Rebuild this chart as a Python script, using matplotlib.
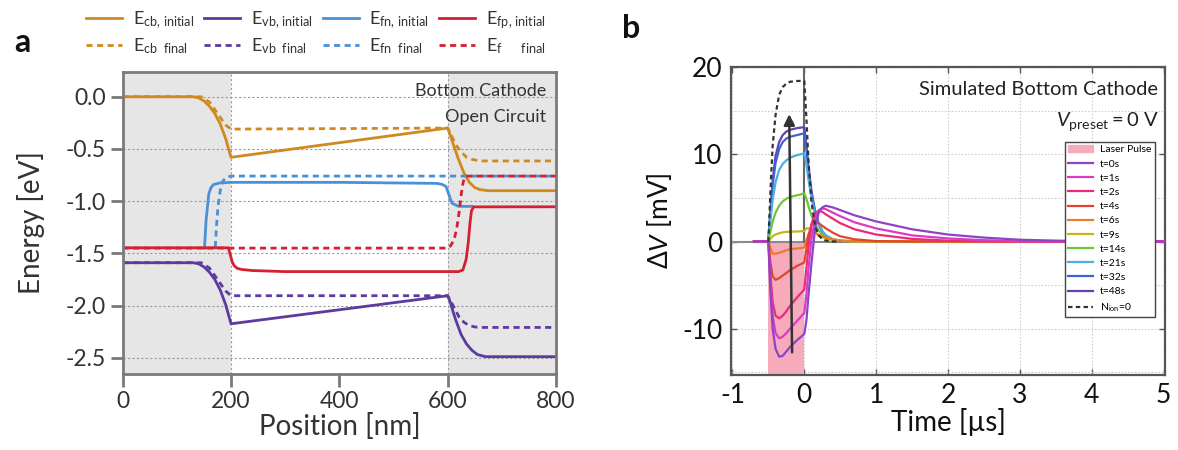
import matplotlib
matplotlib.use('Agg')
import matplotlib.pyplot as plt
from matplotlib.patches import Patch

plt.rcParams['font.family'] = ['Lato', 'DejaVu Sans']
plt.rcParams['mathtext.fontset'] = 'custom'
plt.rcParams['mathtext.rm'] = 'Lato'
plt.rcParams['mathtext.it'] = 'Lato:italic'
plt.rcParams['mathtext.bf'] = 'Lato:bold'

# ---- panel a: band diagram (position in nm, energy in eV)
ecb_i_x = [0, 130, 140, 150, 160, 170, 180, 190, 200, 600, 605, 610, 620, 630, 640, 650, 660, 675, 800]
ecb_i_y = [0, 0, -0.01, -0.04, -0.09, -0.16, -0.26, -0.40, -0.58, -0.30, -0.37, -0.45, -0.60, -0.73, -0.82, -0.87, -0.89, -0.90, -0.90]
ecb_f_x = [0, 145, 160, 175, 190, 200, 600, 605, 615, 625, 635, 645, 660, 800]
ecb_f_y = [0, 0, -0.05, -0.16, -0.27, -0.31, -0.30, -0.35, -0.46, -0.53, -0.58, -0.60, -0.615, -0.615]
evb_i_x = [0, 130, 140, 150, 160, 170, 180, 190, 200, 600, 605, 610, 615, 625, 635, 645, 655, 670, 800]
evb_i_y = [-1.59, -1.59, -1.60, -1.63, -1.68, -1.75, -1.85, -1.99, -2.175, -1.906, -1.97, -2.06, -2.14, -2.28, -2.37, -2.43, -2.47, -2.49, -2.49]
evb_f_x = [0, 145, 160, 175, 190, 200, 600, 610, 621, 630, 639, 650, 660, 800]
evb_f_y = [-1.59, -1.59, -1.64, -1.75, -1.86, -1.906, -1.906, -2.0, -2.11, -2.16, -2.19, -2.205, -2.21, -2.21]
efn_i_x = [151, 154, 159, 163, 168, 180, 200, 400, 580, 590, 597, 603, 608, 620, 645]
efn_i_y = [-1.45, -1.18, -0.93, -0.87, -0.84, -0.825, -0.82, -0.82, -0.83, -0.84, -0.86, -0.95, -1.02, -1.05, -1.05]
efn_f_x = [171, 173, 176, 180, 185, 190, 200, 600, 800]
efn_f_y = [-1.44, -1.25, -1.05, -0.90, -0.81, -0.775, -0.76, -0.76, -0.76]
efp_i_x = [0, 195, 198, 202, 206, 212, 220, 240, 300, 620, 628, 634, 638, 641, 644, 648, 800]
efp_i_y = [-1.447, -1.447, -1.50, -1.58, -1.62, -1.645, -1.655, -1.665, -1.675, -1.675, -1.66, -1.56, -1.40, -1.22, -1.09, -1.055, -1.054]
efp_f_x = [0, 600, 605, 612, 617, 621, 624, 627, 630, 634, 800]
efp_f_y = [-1.45, -1.45, -1.43, -1.37, -1.25, -1.11, -0.98, -0.86, -0.79, -0.76, -0.76]

# ---- panel b: transient photovoltage (time in us, dV in mV)
tb = [-0.7, -0.5, -0.47, -0.44, -0.4, -0.35, -0.3, -0.25, -0.2, -0.1, 0.0, 0.03, 0.06, 0.1, 0.15,
      0.2, 0.25, 0.3, 0.4, 0.5, 0.7, 1.0, 1.5, 2.0, 2.5, 3.0, 3.5, 4.0, 5.0]
v_t0 = [0, 0, -6, -10, -12.3, -13.2, -13.1, -12.6, -12.1, -11.3, -10.6, -9.0, -6.0, -2.5, 1.5,
        3.3, 3.9, 4.1, 3.9, 3.6, 3.0, 2.3, 1.4, 0.8, 0.45, 0.2, 0.1, 0.03, 0]
v_t1 = [0, 0, -5, -8.5, -10.5, -11.1, -10.9, -10.5, -10.0, -9.1, -8.2, -6.0, -3.0, 0.3, 2.6,
        3.6, 3.8, 3.7, 3.3, 2.9, 2.2, 1.5, 0.7, 0.35, 0.15, 0.05, 0.02, 0, 0]
v_t2 = [0, 0, -4, -7, -8.5, -8.8, -8.5, -8.0, -7.4, -6.4, -5.5, -3.0, -0.5, 2.0, 3.3,
        3.5, 3.4, 3.1, 2.6, 2.1, 1.4, 0.8, 0.3, 0.1, 0.03, 0, 0, 0, 0]
v_t4 = [0, 0, -2.5, -4.0, -4.4, -4.2, -3.9, -3.6, -3.3, -2.8, -2.4, -0.8, 0.8, 1.9, 2.3,
        2.1, 1.8, 1.5, 1.0, 0.6, 0.25, 0.05, 0, 0, 0, 0, 0, 0, 0]
v_t6 = [0, 0, -0.8, -1.4, -1.4, -1.3, -1.15, -1.0, -0.9, -0.8, -0.7, 0.2, 0.8, 1.1, 1.0,
        0.8, 0.6, 0.45, 0.25, 0.12, 0.03, 0, 0, 0, 0, 0, 0, 0, 0]
v_t9 = [0, 0, 0.3, 0.6, 0.8, 0.95, 1.05, 1.1, 1.12, 1.15, 1.2, 1.5, 1.5, 1.3, 1.0,
        0.7, 0.5, 0.35, 0.15, 0.06, 0, 0, 0, 0, 0, 0, 0, 0, 0]
v_t14 = [0, 0, 1.2, 2.3, 3.3, 4.1, 4.6, 4.9, 5.1, 5.3, 5.5, 4.9, 4.0, 3.0, 2.0,
         1.3, 0.8, 0.5, 0.2, 0.08, 0, 0, 0, 0, 0, 0, 0, 0, 0]
v_t21 = [0, 0, 2.5, 4.8, 6.8, 8.2, 8.9, 9.3, 9.6, 9.9, 10.1, 8.8, 7.0, 5.0, 3.2,
         2.0, 1.2, 0.7, 0.25, 0.1, 0, 0, 0, 0, 0, 0, 0, 0, 0]
v_t32 = [0, 0, 3.5, 6.5, 9.0, 10.6, 11.4, 11.8, 12.0, 12.2, 12.4, 10.5, 8.0, 5.5, 3.3,
         2.0, 1.1, 0.6, 0.2, 0.05, 0, 0, 0, 0, 0, 0, 0, 0, 0]
v_t48 = [0, 0, 3.8, 7.0, 9.8, 11.4, 12.2, 12.6, 12.8, 13.0, 13.1, 11.0, 8.5, 5.8, 3.5,
         2.1, 1.2, 0.65, 0.2, 0.06, 0, 0, 0, 0, 0, 0, 0, 0, 0]
v_noion = [0, 0, 6, 11, 14.5, 16.8, 17.7, 18.1, 18.3, 18.4, 18.4, 14.0, 9.0, 4.5, 1.8,
           0.7, 0.3, 0.1, 0, 0, 0, 0, 0, 0, 0, 0, 0, 0, 0]
t_labels = ['t=0s', 't=1s', 't=2s', 't=4s', 't=6s', 't=9s', 't=14s', 't=21s', 't=32s', 't=48s']
t_colors = ['#8c44c6', '#d83cc4', '#ec2a7c', '#e2452c', '#ea7c2c', '#c8b418',
            '#6cc832', '#4aaee6', '#3c64d0', '#6440b4']
pulse = [-0.5, 0.0]

fig = plt.figure(figsize=(11.78, 4.5), dpi=100)
W, H = 1178.0, 450.0

# ================= panel a
axa = fig.add_axes([122.7 / W, 1 - 374 / H, (556 - 122.7) / W, (374 - 71.7) / H])
axa.set_xlim(0, 800)
axa.set_ylim(-2.656, 0.24)
axa.axvspan(0, 200, color='#e6e6e6', zorder=0, lw=0)
axa.axvspan(600, 800, color='#e6e6e6', zorder=0, lw=0)
for yv in [0, -0.5, -1.0, -1.5, -2.0, -2.5]:
    axa.axhline(yv, color='#9a9a9a', lw=0.8, ls=(0, (2, 2)), zorder=1)
for xv in [200, 600]:
    axa.axvline(xv, color='#9a9a9a', lw=0.8, ls=(0, (2, 2)), zorder=1)

c_cb, c_vb, c_fn, c_fp = '#d0891f', '#5c3a9e', '#4a90d8', '#d42030'
dash = (0, (2.2, 1.6))
lw = 2.0
h = []
h += axa.plot(ecb_i_x, ecb_i_y, color=c_cb, lw=lw)
h += axa.plot(ecb_f_x, ecb_f_y, color=c_cb, lw=lw, ls=dash)
h += axa.plot(evb_i_x, evb_i_y, color=c_vb, lw=lw)
h += axa.plot(evb_f_x, evb_f_y, color=c_vb, lw=lw, ls=dash)
h += axa.plot(efn_i_x, efn_i_y, color=c_fn, lw=lw)
h += axa.plot(efn_f_x, efn_f_y, color=c_fn, lw=lw, ls=dash)
h += axa.plot(efp_i_x, efp_i_y, color=c_fp, lw=lw)
h += axa.plot(efp_f_x, efp_f_y, color=c_fp, lw=lw, ls=dash)
labels_a = [r'E$_{\mathrm{cb,\,initial}}$', r'E$_{\mathrm{cb\ \ final}}$',
            r'E$_{\mathrm{vb,\,initial}}$', r'E$_{\mathrm{vb\ \ final}}$',
            r'E$_{\mathrm{fn,\,initial}}$', r'E$_{\mathrm{fn\ \ final}}$',
            r'E$_{\mathrm{fp,\,initial}}$', r'E$_{\mathrm{f\ \ \ \ \ \ final}}$']
fig.legend(h, labels_a, ncol=4, loc='upper left', bbox_to_anchor=(70 / W, 1.015),
           frameon=False, fontsize=13, handlelength=2.0, columnspacing=0.55,
           handletextpad=0.6, labelspacing=0.3, labelcolor='#333333')

for s in axa.spines.values():
    s.set_color('#7a7a7a')
    s.set_linewidth(2)
axa.set_xticks([0, 200, 400, 600, 800])
axa.set_yticks([0, -0.5, -1.0, -1.5, -2.0, -2.5])
axa.set_yticklabels(['0.0', '-0.5', '-1.0', '-1.5', '-2.0', '-2.5'])
axa.tick_params(direction='out', length=9, width=2, color='#7a7a7a',
                labelsize=16.5, labelcolor='#333333', pad=3)
axa.set_xlabel('Position [nm]', fontsize=20, color='#333333', labelpad=1)
axa.set_ylabel('Energy [eV]', fontsize=20, color='#333333', labelpad=15)
axa.text(0.978, 0.962, 'Bottom Cathode', transform=axa.transAxes, ha='right', va='top',
         fontsize=13, color='#333333')
axa.text(0.978, 0.878, 'Open Circuit', transform=axa.transAxes, ha='right', va='top',
         fontsize=13, color='#333333')
fig.text(14 / W, 1 - 52 / H, 'a', fontsize=23, fontweight='bold', color='#111111')

# ================= panel b
axb = fig.add_axes([731 / W, 1 - 375 / H, (1165 - 731) / W, (375 - 67) / H])
axb.set_xlim(-1.02, 5.02)
axb.set_ylim(-15.3, 20)
axb.set_xticks([-1, 0, 1, 2, 3, 4, 5])
axb.set_yticks([-10, 0, 10, 20])
axb.set_yticks([-15, -5, 5, 15], minor=True)
axb.grid(True, which='both', color='#cfcfcf', ls=(0, (1.5, 1.5)), lw=0.8)
axb.set_axisbelow(True)
axb.axvspan(pulse[0], pulse[1], ymin=0, ymax=15.3 / 35.3, color='#f7abba', lw=0, zorder=1)
axb.axhline(0, color='#8a8a8a', lw=1.5, zorder=1.5)
axb.plot([0, 0], [0, 20], color='#666666', lw=1.5, zorder=1.5)

series = [v_t0, v_t1, v_t2, v_t4, v_t6, v_t9, v_t14, v_t21, v_t32, v_t48]
lines_b = {}
for i in range(len(series) - 1, -1, -1):
    ln, = axb.plot(tb, series[i], color=t_colors[i], lw=1.6, zorder=3)
    lines_b[i] = ln
nl, = axb.plot(tb[1:20], v_noion[1:20], color='#333333', lw=1.6, ls=(0, (2, 1.5)), zorder=4)
axb.annotate('', xy=(-0.21, 14.6), xytext=(-0.17, -12.7),
             arrowprops=dict(arrowstyle='-|>', color='#333333', lw=1.8,
                             mutation_scale=16, shrinkA=0, shrinkB=0), zorder=5)

for s in axb.spines.values():
    s.set_color('#555555')
    s.set_linewidth(1.6)
axb.tick_params(which='both', direction='in', top=True, right=True, length=4, width=1,
                color='#555555', labelsize=19, labelcolor='#111111', pad=6)
axb.tick_params(which='minor', length=0)
axb.set_xticklabels(['-1', '0', '1', '2', '3', '4', '5'])
axb.set_yticklabels(['-10', '0', '10', '20'])
axb.set_xlabel('Time [µs]', fontsize=20, color='#111111', labelpad=0)
axb.set_ylabel(r'$\mathit{\Delta V}$ [mV]', fontsize=19, color='#111111', labelpad=6)
axb.text(0.985, 0.955, 'Simulated Bottom Cathode', transform=axb.transAxes, ha='right',
         va='top', fontsize=14.5, color='#222222')
axb.text(0.985, 0.86, r'$V_{\mathrm{preset}} = 0$ V', transform=axb.transAxes, ha='right',
         va='top', fontsize=14.5, color='#222222')

handles_b = [Patch(color='#f7abba')] + [lines_b[i] for i in range(len(series))] + [nl]
labels_b = ['Laser Pulse'] + t_labels + [r'N$_{\mathrm{ion}}$=0']
leg = axb.legend(handles_b, labels_b, loc='upper right', bbox_to_anchor=(0.988, 0.775),
                 fontsize=7.5, handlelength=2.4, labelspacing=0.47, handletextpad=0.6,
                 borderpad=0.35, fancybox=False, framealpha=1, edgecolor='#444444')
leg.get_frame().set_linewidth(1.0)
fig.text(622 / W, 1 - 38 / H, 'b', fontsize=23, fontweight='bold', color='#111111')

fig.savefig('out.png', dpi=100)
